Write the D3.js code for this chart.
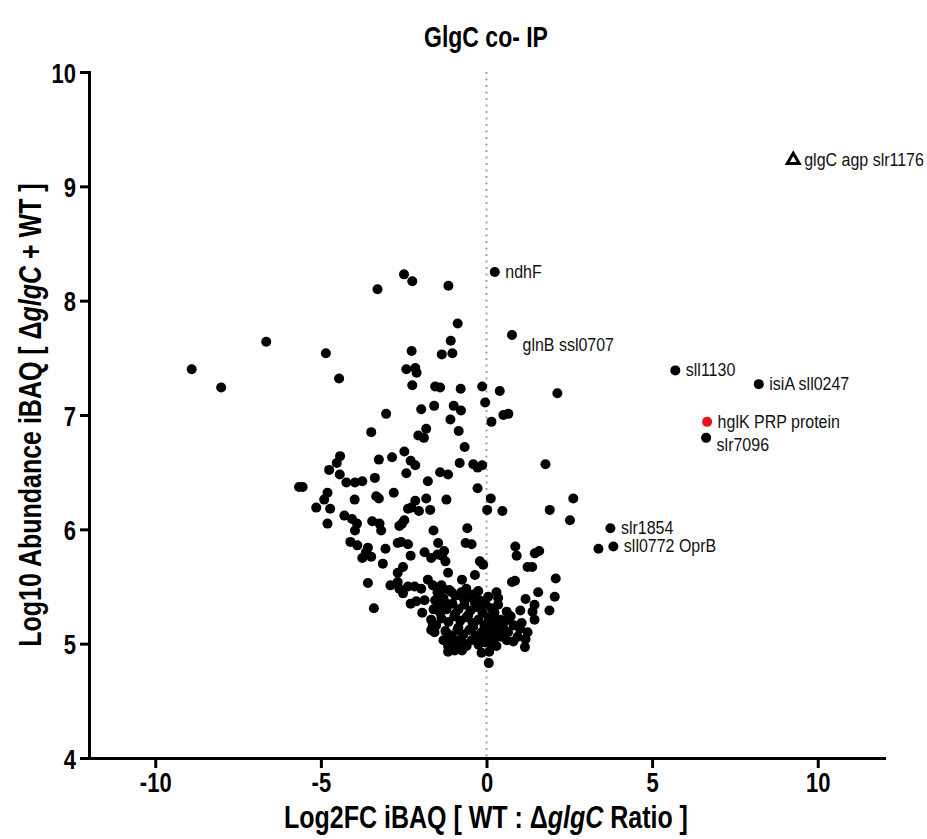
<!DOCTYPE html>
<html>
<head>
<meta charset="utf-8">
<script src="https://cdn.jsdelivr.net/npm/d3@7"></script>
<style>
  body { margin: 0; background: #fff; }
  text { font-family: "Liberation Sans", Arial, sans-serif; }
</style>
</head>
<body>
<div id="chart"></div>
<script>
// unlabelled proteins: log2 fold change (WT : dglgC) and log10 abundance
const log2fc = [
  -8.90, -8.01, -6.65, -4.85, -4.45, -3.29, -2.49, -2.24, -1.15, -0.87, -1.08, -2.26, -1.35, -1.03, -2.42,
  -2.15, -2.11, -2.24, -1.55, -1.40, -0.78, -0.13, -0.04, -3.03, -1.97, -1.58, -0.99, -0.77, -1.09, -3.48,
  -1.82, -2.06, -1.89, -0.84, -0.66,
  3.38, 0.40, 2.14, 0.51, 0.66, 0.15, 1.78, 0.13, 2.62, 0.02, 0.48, 1.91, 2.52, 0.87, 0.91,
  1.46, 1.59, 1.24, 1.38, 2.09, 0.77, 0.86, 0.30, 1.56, 1.18, 2.06, 1.90, 1.45, 1.39, 1.45,
  0.35, 1.02, 0.73, 0.68, 1.06, 1.01, 1.24, 1.18, 1.16, 0.81, 0.61, 0.45, 0.07, 0.08,
  -4.42, -4.52, -4.43, -4.75, -3.25, -2.85, -2.48, -2.29, -2.15, -2.42, -1.77, -1.40, -1.16, -0.81, -0.40,
  -0.27, -0.13, -0.27, -4.23, -3.97, -3.75, -3.37, -5.66, -5.55, -4.80, -4.90, -5.14, -4.72, -4.80, -3.98,
  -3.33, -3.25, -2.80, -2.37, -2.27, -2.15, -2.04, -1.82, -1.70, -1.21, -1.60, -0.58, -1.46, -0.63, -0.45,
  -2.63, -2.55, -2.48, -4.29, -4.06, -3.91, -3.97, -3.45, -3.23, -3.18, -4.11, -3.90, -3.58, -3.64, -3.48,
  -3.75, -3.05, -3.13, -2.68, -2.58, -2.37, -2.29, -2.52, -2.68, -1.87, -1.67, -1.48, -1.28, -1.34, -1.24,
  -1.16, -0.74, -0.35, -0.20, -0.10, -0.61, -3.58, -3.40, -2.90, -2.68, -2.63, -2.52, -2.37, -2.17, -1.97,
  -1.77, -1.62, -1.36, -1.31, -2.29, -2.12, -1.94, -1.87, -1.67, -1.62, -1.57, -1.67, -1.16, -0.96, -0.74,
  -1.16, -0.15,
  -1.48, -1.30, -1.12, -0.94, -0.76, -0.58, -0.39, -0.21, -0.03, 0.15, -1.42, -1.21, -1.03, -0.85, -0.67,
  -0.48, -0.30, -0.12, 0.06, 0.24, 0.42, -1.36, -1.15, -0.97, -0.79, -0.61, -0.42, -0.24, -0.06, 0.12,
  0.30, 0.52, -1.24, -1.06, -0.88, -0.70, -0.52, -0.33, -0.15, 0.03, 0.21, 0.39, -1.30, -1.09, -0.88,
  -0.67, -0.45, -0.24, -0.03, 0.18, -1.52, -1.55, 0.61, 0.82, 0.94,
  -1.25, -0.95, -0.70, -0.55, -0.35, -0.15, 0.05, 0.25, 0.40, 0.55, -0.85, -1.15, -0.40, -0.10, 0.15,
  -0.60, -0.90, 0.30, -1.40, -1.60, -1.05, -0.25, 0.10, 0.65, 0.35
];
const log10Abundance = [
  7.40, 7.24, 7.64, 7.54, 7.32, 8.10, 8.23, 8.17, 8.13, 7.80, 7.65, 7.56, 7.53, 7.54, 7.40,
  7.41, 7.37, 7.26, 7.25, 7.24, 7.23, 7.25, 7.11, 7.01, 7.05, 7.08, 7.08, 7.04, 6.96, 6.85,
  6.88, 6.82, 6.80, 6.86, 6.72,
  5.83, 7.21, 7.19, 7.00, 7.01, 6.94, 6.57, 6.27, 6.27, 6.17, 6.16, 6.17, 6.08, 5.85, 5.77,
  5.79, 5.81, 5.67, 5.67, 5.57, 5.54, 5.55, 5.45, 5.45, 5.39, 5.41, 5.29, 5.34, 5.28, 5.21,
  5.34, 5.29, 5.24, 5.21, 5.18, 5.13, 5.10, 5.04, 4.97, 5.02, 5.03, 5.06, 4.83, 4.93,
  6.64, 6.58, 6.48, 6.52, 6.61, 6.63, 6.68, 6.60, 6.56, 6.49, 6.42, 6.50, 6.48, 6.58, 6.57,
  6.54, 6.56, 6.36, 6.41, 6.41, 6.42, 6.45, 6.37, 6.37, 6.32, 6.26, 6.19, 6.18, 6.05, 6.26,
  6.29, 6.27, 6.32, 6.18, 6.19, 6.25, 6.16, 6.27, 6.17, 6.26, 5.99, 6.01, 5.88, 5.88, 5.87,
  6.03, 6.05, 6.08, 6.12, 6.09, 6.05, 5.99, 6.07, 6.05, 5.99, 5.89, 5.86, 5.84, 5.80, 5.76,
  5.75, 5.83, 5.70, 5.88, 5.89, 5.87, 5.77, 5.67, 5.62, 5.80, 5.75, 5.78, 5.81, 5.77, 5.72,
  5.62, 5.56, 5.60, 5.72, 5.69, 5.48, 5.53, 5.31, 5.51, 5.54, 5.48, 5.44, 5.50, 5.50, 5.48,
  5.56, 5.51, 5.51, 5.48, 5.35, 5.37, 5.27, 5.38, 5.12, 5.16, 5.10, 5.21, 4.93, 4.94, 4.94,
  4.98, 4.92,
  5.45, 5.40, 5.47, 5.42, 5.45, 5.40, 5.43, 5.38, 5.35, 5.31, 5.33, 5.30, 5.35, 5.30, 5.34,
  5.29, 5.32, 5.27, 5.23, 5.27, 5.21, 5.22, 5.19, 5.24, 5.20, 5.23, 5.18, 5.21, 5.16, 5.12,
  5.16, 5.13, 5.11, 5.07, 5.12, 5.08, 5.12, 5.07, 5.10, 5.05, 5.02, 5.07, 5.03, 5.00, 5.03,
  5.00, 5.03, 4.99, 5.01, 4.98, 5.16, 5.38, 5.28, 5.16, 5.06,
  5.36, 5.26, 5.40, 5.25, 5.36, 5.31, 5.41, 5.20, 5.12, 5.20, 5.14, 5.08, 5.15, 5.05, 5.08,
  4.98, 4.97, 4.98, 5.27, 5.30, 5.45, 5.46, 5.20, 5.10, 5.40
];

// named proteins
const labelGenes = ["ndhF", "glnB ssl0707", "sll1130", "isiA sll0247", "hglK PRP protein", "slr7096", "slr1854", "sll0772 OprB"];
const labelFC = [0.25, 0.77, 5.70, 8.22, 6.66, 6.63, 3.74, 3.83];
const labelAbundance = [8.25, 7.70, 7.39, 7.27, 6.94, 6.80, 6.01, 5.85];
const highlightGene = "hglK PRP protein";

// the bait
const baitGene = "glgC agp slr1176";
const baitFC = 9.26;
const baitAbundance = 9.23;

const xTicks = [-10, -5, 0, 5, 10];
const yTicks = [4, 5, 6, 7, 8, 9, 10];

const width = 927;
const height = 839;
const FONT = '"Liberation Sans", Arial, sans-serif';
const STRETCH = 1.28; // text in the figure is drawn tall and narrow

const svg = d3.select("#chart").append("svg")
    .attr("width", width)
    .attr("height", height);

const x = d3.scaleLinear().domain([-12, 12]).range([89, 884]);
const y = d3.scaleLinear().domain([4, 10]).range([758, 72]);

// dotted line at x = 0
svg.append("line")
    .attr("x1", x(0)).attr("x2", x(0))
    .attr("y1", y(10)).attr("y2", y(4))
    .attr("stroke", "#a0a0a0")
    .attr("stroke-width", 2)
    .attr("stroke-dasharray", "2,4.5");

svg.append("g")
    .selectAll("circle")
    .data(d3.zip(log2fc, log10Abundance))
    .join("circle")
    .attr("cx", d => x(d[0]))
    .attr("cy", d => y(d[1]))
    .attr("r", 5)
    .attr("fill", "#000");

// label nudges (px) where text sits under the dot
const nudge = {"glnB ssl0707": 10, "slr7096": 7};

const named = labelGenes.map((g, i) => ({gene: g, fc: labelFC[i], ab: labelAbundance[i]}));
const ng = svg.append("g").selectAll("g").data(named).join("g");
ng.append("circle")
    .attr("cx", d => x(d.fc))
    .attr("cy", d => y(d.ab))
    .attr("r", 5)
    .attr("fill", d => d.gene === highlightGene ? "#e8101a" : "#000");
ng.append("text")
    .attr("transform", d => `translate(${x(d.fc) + 10.5},${y(d.ab) + (nudge[d.gene] || 0) + 6}) scale(1,1.1)`)
    .attr("font-size", 16)
    .attr("fill", "#111")
    .text(d => d.gene);

svg.append("path")
    .attr("d", d3.symbol(d3.symbolTriangle, 62)())
    .attr("transform", `translate(${x(baitFC)},${y(baitAbundance)})`)
    .attr("fill", "#fff")
    .attr("stroke", "#000")
    .attr("stroke-width", 3);
svg.append("text")
    .attr("transform", `translate(${x(baitFC) + 11},${y(baitAbundance) + 6}) scale(1,1.1)`)
    .attr("font-size", 16)
    .attr("fill", "#111")
    .text(baitGene);

// axes
const xAxis = svg.append("g")
    .attr("transform", `translate(0,${y(4)})`)
    .call(d3.axisBottom(x).tickValues(xTicks).tickFormat(d => String(d)).tickSize(10).tickSizeOuter(0));
const yAxis = svg.append("g")
    .attr("transform", `translate(${x(-12)},0)`)
    .call(d3.axisLeft(y).tickValues(yTicks).tickFormat(d => String(d)).tickSize(9).tickSizeOuter(0));

[xAxis, yAxis].forEach(a => {
    a.select(".domain").attr("stroke-width", 3).attr("stroke-linecap", "square");
    a.selectAll(".tick line").attr("stroke-width", 3);
    a.selectAll(".tick text")
        .attr("font-family", FONT)
        .attr("font-size", 22)
        .attr("font-weight", "bold")
        .attr("fill", "#000")
        .attr("x", 0).attr("y", 0).attr("dy", null);
});
xAxis.selectAll(".tick text").attr("transform", `translate(0,34) scale(1,${STRETCH})`);
yAxis.selectAll(".tick text").attr("transform", `translate(-13,10) scale(1,${STRETCH})`);

// titles
svg.append("text")
    .attr("transform", `translate(486,47) scale(1,${STRETCH})`)
    .attr("text-anchor", "middle")
    .attr("font-size", 23)
    .attr("font-weight", "bold")
    .text("GlgC co- IP");

const xt = svg.append("text")
    .attr("transform", `translate(486,828) scale(1,${STRETCH})`)
    .attr("text-anchor", "middle")
    .attr("font-size", 25)
    .attr("font-weight", "bold");
xt.append("tspan").text("Log2FC iBAQ [ WT : Δ");
xt.append("tspan").attr("font-style", "italic").text("glgC");
xt.append("tspan").text(" Ratio ]");

const yt = svg.append("text")
    .attr("transform", `translate(41,415) rotate(-90) scale(1,${STRETCH})`)
    .attr("text-anchor", "middle")
    .attr("font-size", 25)
    .attr("font-weight", "bold");
yt.append("tspan").text("Log10 Abundance iBAQ [ Δ");
yt.append("tspan").attr("font-style", "italic").text("glgC");
yt.append("tspan").text(" + WT ]");
</script>
</body>
</html>
